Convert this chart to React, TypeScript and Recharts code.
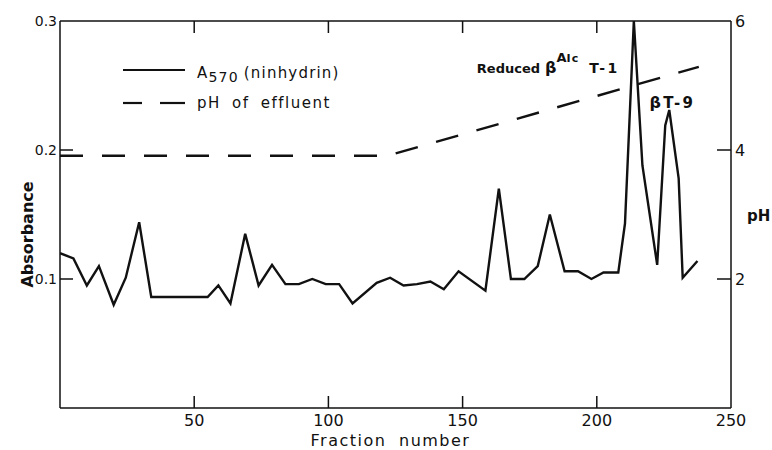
import React from 'react';
import { ComposedChart, Line, XAxis, YAxis, ReferenceDot, Legend } from 'recharts';

// Absorbance at 570 nm (ninhydrin) vs fraction number
const fractions = [0, 5, 10, 14.5, 20, 24.5, 29.5, 34, 55, 59, 63.5, 69, 74, 79, 84, 89, 94, 99, 104, 109, 118, 123, 128, 133, 138, 143, 148.5, 158.5, 163.5, 168, 173, 178, 182.5, 188, 193, 198, 202.5, 208, 210.5, 213.8, 217, 222.5, 225.5, 227, 230.5, 232, 237.5];
const absorbance = [0.120, 0.116, 0.095, 0.110, 0.080, 0.101, 0.144, 0.086, 0.086, 0.095, 0.081, 0.135, 0.095, 0.111, 0.096, 0.096, 0.100, 0.096, 0.096, 0.081, 0.097, 0.101, 0.095, 0.096, 0.098, 0.092, 0.106, 0.091, 0.170, 0.100, 0.100, 0.110, 0.150, 0.106, 0.106, 0.100, 0.105, 0.105, 0.143, 0.300, 0.188, 0.111, 0.219, 0.231, 0.178, 0.101, 0.114];

// pH of effluent
const phFractions = [0, 122, 238];
const phValues = [3.91, 3.91, 5.29];

const xTicks = [50, 100, 150, 200, 250];
const topTicks = [50, 100, 150, 200];
const absTicks = [0.1, 0.2, 0.3];
const phTicks = [2, 4, 6];

const a570Data = fractions.map((f, i) => ({ f, a: absorbance[i] }));
const phData = phFractions.map((f, i) => ({ f, ph: phValues[i] }));

const INK = '#111';
const FONT = '"DejaVu Sans", sans-serif';

const BottomTick = (props: any) => {
  const { x, y, payload } = props;
  return (
    <g>
      {payload.value !== 250 && <line x1={x} y1={y} x2={x} y2={y - 12} stroke={INK} strokeWidth={1.5} />}
      <text x={x} y={y + 18} textAnchor="middle" fontSize={16} fontFamily={FONT} fill={INK}>{payload.value}</text>
    </g>
  );
};

const TopTick = (props: any) => {
  const { x, y } = props;
  return <line x1={x} y1={y} x2={x} y2={y + 12} stroke={INK} strokeWidth={1.5} />;
};

const LeftTick = (props: any) => {
  const { x, y, payload } = props;
  return (
    <g>
      {payload.value !== 0.3 && <line x1={x} y1={y} x2={x + 13} y2={y} stroke={INK} strokeWidth={1.5} />}
      <text x={x - 3} y={y + 5} textAnchor="end" fontSize={14} fontFamily={FONT} fill={INK}>{String(payload.value)}</text>
    </g>
  );
};

const RightTick = (props: any) => {
  const { x, y, payload } = props;
  return (
    <g>
      {payload.value !== 6 && <line x1={x} y1={y} x2={x - 14} y2={y} stroke={INK} strokeWidth={1.5} />}
      <text x={x + 4} y={y + 6} textAnchor="start" fontSize={16} fontFamily={FONT} fill={INK}>{payload.value}</text>
    </g>
  );
};

const XLabel = (props: any) => {
  const vb = props.viewBox;
  return (
    <text x={vb.x + vb.width / 2 - 5} y={vb.y + 38} textAnchor="middle" fontSize={16} fontFamily={FONT} letterSpacing={1.5} wordSpacing={6} fill={INK}>
      Fraction number
    </text>
  );
};

const YLabel = (props: any) => {
  const vb = props.viewBox;
  const cx = vb.x + vb.width - 27;
  const cy = vb.y + vb.height / 2 + 20;
  return (
    <text x={cx} y={cy} transform={`rotate(-90 ${cx} ${cy})`} textAnchor="middle" fontSize={16} fontWeight="bold" fontFamily={FONT} fill={INK}>
      Absorbance
    </text>
  );
};

const PhLabel = (props: any) => {
  const vb = props.viewBox;
  return (
    <text x={vb.x + 16} y={vb.y + vb.height / 2 + 6} textAnchor="start" fontSize={15} fontWeight="bold" fontFamily={FONT} fill={INK}>
      pH
    </text>
  );
};

const T1Label = (props: any) => {
  const { x, y } = props.viewBox;
  return (
    <text x={x} y={y} fontSize={13} fontWeight="bold" fontFamily={FONT} fill={INK}>
      Reduced
      <tspan dx={5} fontSize={16}>β</tspan>
      <tspan dy={-11} fontSize={13}>A</tspan>
      <tspan fontSize={11} letterSpacing={1}>Ic</tspan>
      <tspan dy={11} dx={10} fontSize={14} letterSpacing={2.5}>T-1</tspan>
    </text>
  );
};

const T9Label = (props: any) => {
  const { x, y } = props.viewBox;
  return (
    <text x={x} y={y} fontSize={15} fontWeight="bold" fontFamily={FONT} fill={INK} letterSpacing={2.5}>
      <tspan fontSize={16}>β</tspan>T-9
    </text>
  );
};

const LegendContent = () => (
  <svg width={260} height={62} style={{ display: 'block' }}>
    <line x1={8} y1={15} x2={70} y2={15} stroke={INK} strokeWidth={2.2} />
    <text x={82} y={23} fontSize={15} fontFamily={FONT} fill={INK} letterSpacing={1.2}>
      A<tspan dy={4} fontSize={14}>570</tspan>
      <tspan dy={-4} dx={5}>(ninhydrin)</tspan>
    </text>
    <line x1={8} y1={48} x2={27} y2={48} stroke={INK} strokeWidth={2.2} />
    <line x1={45} y1={48} x2={70} y2={48} stroke={INK} strokeWidth={2.2} />
    <text x={82} y={53} fontSize={15} fontFamily={FONT} fill={INK} letterSpacing={1.5} wordSpacing={5}>
      pH of effluent
    </text>
  </svg>
);

export default function App() {
  return (
    <div style={{ position: 'absolute', left: 0, top: 0, width: 772, height: 450, background: '#fff' }}>
      <ComposedChart width={772} height={450} margin={{ top: 20, right: 40, bottom: 41, left: 59 }}>
        <XAxis xAxisId="bottom" type="number" dataKey="f" domain={[0, 250]} ticks={xTicks} interval={0}
          height={1} tickSize={0} tickMargin={0} tick={<BottomTick />} tickLine={false}
          axisLine={{ stroke: INK, strokeWidth: 1.5 }} allowDataOverflow label={<XLabel />} />
        <XAxis xAxisId="top" orientation="top" type="number" dataKey="f" domain={[0, 250]} ticks={topTicks} interval={0}
          height={1} tickSize={0} tickMargin={0} tick={<TopTick />} tickLine={false}
          axisLine={{ stroke: INK, strokeWidth: 1.5 }} allowDataOverflow />
        <YAxis yAxisId="left" type="number" domain={[0, 0.3]} ticks={absTicks} interval={0}
          width={1} tickSize={0} tickMargin={0} tick={<LeftTick />} tickLine={false}
          axisLine={{ stroke: INK, strokeWidth: 1.5 }} allowDataOverflow label={<YLabel />} />
        <YAxis yAxisId="right" orientation="right" type="number" domain={[0, 6]} ticks={phTicks} interval={0}
          width={1} tickSize={0} tickMargin={0} tick={<RightTick />} tickLine={false}
          axisLine={{ stroke: INK, strokeWidth: 1.5 }} allowDataOverflow label={<PhLabel />} />
        <Legend layout="vertical" align="center" verticalAlign="middle" content={<LegendContent />}
          wrapperStyle={{ left: 115, top: 55, width: 260, height: 62 }} />
        <Line xAxisId="top" yAxisId="right" data={phData} dataKey="ph" name="pH of effluent" type="linear"
          stroke={INK} strokeWidth={2.4} strokeDasharray="23 19" dot={false} activeDot={false} isAnimationActive={false} />
        <Line xAxisId="bottom" yAxisId="left" data={a570Data} dataKey="a" name="A570 (ninhydrin)" type="linear"
          stroke={INK} strokeWidth={2.4} strokeLinejoin="miter" dot={false} activeDot={false} isAnimationActive={false} />
        <ReferenceDot xAxisId="bottom" yAxisId="left" x={155.3} y={0.2597} r={0} fill="none" stroke="none"
          ifOverflow="visible" label={<T1Label />} />
        <ReferenceDot xAxisId="bottom" yAxisId="left" x={219.6} y={0.2326} r={0} fill="none" stroke="none"
          ifOverflow="visible" label={<T9Label />} />
      </ComposedChart>
    </div>
  );
}
